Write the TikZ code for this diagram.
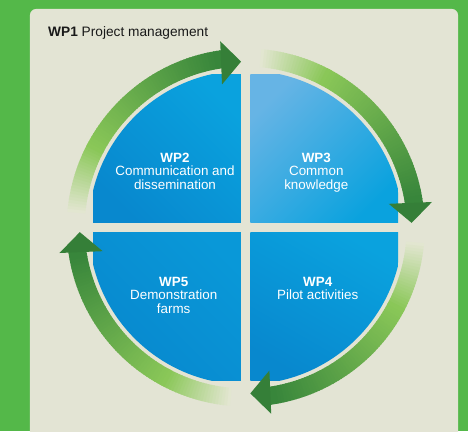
\documentclass[tikz,border=0pt]{standalone}
\usepackage{fontspec}
\setmainfont{Liberation Sans}

\definecolor{bggreen}{RGB}{84,184,73}
\definecolor{panel}{RGB}{227,228,212}
\definecolor{arrowpale}{RGB}{226,230,208}
\definecolor{arrowlight}{RGB}{138,199,88}
\definecolor{arrowdark}{RGB}{56,134,59}
\definecolor{headgreen}{RGB}{53,127,56}
\definecolor{quadcyan}{RGB}{10,162,222}
\definecolor{quadblue}{RGB}{8,136,206}
\definecolor{quadsky}{RGB}{102,180,229}

\begin{document}
\begin{tikzpicture}[x=1pt,y=1pt,
  wp/.style={text=white,align=center,inner sep=0,anchor=north,font=\fontsize{13.4}{13.5}\selectfont}]
\useasboundingbox (-245.7,-203.5) rectangle (222.3,227.5);
\fill[bggreen] (-245.7,-203.5) rectangle (222.3,227.5);
\fill[panel,rounded corners=6] (-215.7,-230) rectangle (212.3,218.5);

\node[anchor=base west,inner sep=0,text=black!90,font=\fontsize{13.7}{16}\selectfont] (wp1) at (-197.7,191) {\textbf{WP1} Project management};

% the four work packages
\begin{scope}
\clip (0,0) circle (157);
\shade[top color=quadcyan,bottom color=quadblue,shading angle=-45] (-152.5,4.75) rectangle (-4.75,152.5);
\shade[top color=quadsky,bottom color=quadcyan,shading angle=45] (4.75,4.75) rectangle (152.5,152.5);
\shade[top color=quadcyan,bottom color=quadblue,shading angle=-30] (4.75,-4.75) rectangle (152.5,-152.5);
\shade[top color=quadcyan!60!quadblue,bottom color=quadblue,shading angle=-45] (-152.5,-4.75) rectangle (-4.75,-152.5);
\end{scope}

\node[wp] (wp2) at (-70.7,74.8) {\textbf{WP2}\\Communication and\\dissemination};
\node[wp] (wp3) at (70.6,74.8) {\textbf{WP3}\\Common\\knowledge};
\node[wp] (wp5) at (-72,-49.2) {\textbf{WP5}\\Demonstration\\farms};
\node[wp] (wp4) at (72,-49.2) {\textbf{WP4}\\Pilot activities};

% cycle arrows, pale tail to dark head
\foreach \r in {0,90,180,270}{
\begin{scope}[rotate=\r]
  \foreach \i in {0,...,22}{
    \pgfmathsetmacro\a{85-\i}
    \pgfmathsetmacro\b{\a-1.3}
    \pgfmathsetmacro\p{100*\i/22}
    \fill[arrowlight!\p!arrowpale] (\a:161) arc[start angle=\a,end angle=\b,radius=161] -- (\b:179) arc[start angle=\b,end angle=\a,radius=179] -- cycle;
  }
  \foreach \i in {0,...,54}{
    \pgfmathsetmacro\a{62.5-\i}
    \pgfmathsetmacro\b{\a-1.3}
    \pgfmathsetmacro\p{min(100,100*\i/52)}
    \fill[arrowdark!\p!arrowlight] (\a:161) arc[start angle=\a,end angle=\b,radius=161] -- (\b:179) arc[start angle=\b,end angle=\a,radius=179] -- cycle;
  }
  \fill[headgreen] (9.4:145) -- (1.6:166) -- (7.8:188) -- cycle;
\end{scope}
}
\end{tikzpicture}
\end{document}
